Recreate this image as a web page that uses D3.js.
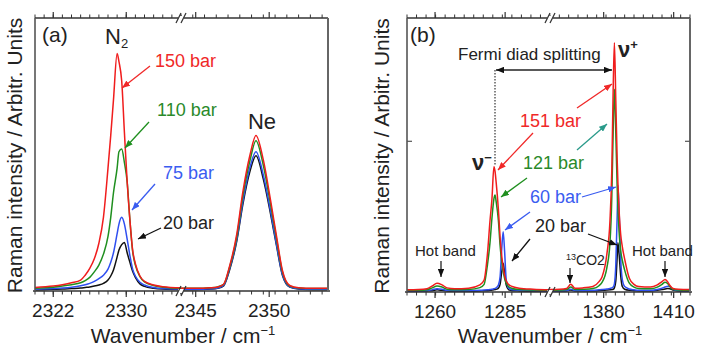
<!DOCTYPE html>
<html>
<head>
<meta charset="utf-8">
<script src="https://cdn.jsdelivr.net/npm/d3@7"></script>
<style>
body{margin:0;background:#fff;}
svg text{font-family:"Liberation Sans",Arial,sans-serif;}
</style>
</head>
<body>
<div id="chart"></div>
<script>
// ---- panel (a): N2 / Ne ----
const aWaveL = [2320,2322,2323,2324,2325,2325.5,2326,2326.5,2327,2327.5,2328,2328.3,2328.6,2329,2329.2,2329.5,2329.8,2330.1,2330.4,2330.7,2331,2331.5,2332,2333,2334,2336];
const aN2_150 = [1.3,1.8,2.3,3,4,5.8,8.3,11.8,17.5,27,45,57,70,87,84,77,58,40,26,15,10,5.5,3.5,2.2,1.6,1.2];
const aN2_110 = [1.0,1.4,1.8,2.3,3,3.8,5,7,9.5,13.5,20,27,36,45,51,52,47,40,26,14.5,9.5,5.3,3.3,2,1.4,1.0];
const aN2_75  = [0.6,0.9,1.1,1.4,1.9,2.3,2.8,3.5,4.5,5.8,8,10.5,14,21,24.5,27,24.5,19,13,8,5.5,3.2,2.2,1.3,0.9,0.7];
const aN2_20  = [0.4,0.6,0.7,0.9,1.1,1.3,1.5,1.8,2.2,2.8,4,5.5,7.7,12.5,15,17,17.8,14,10.5,7.2,5,2.6,1.7,1,0.7,0.5];

const aWaveR = [2344,2345,2346,2346.5,2346.9,2347.3,2347.8,2348.2,2348.7,2349.1,2349.6,2350.1,2350.5,2350.9,2351.4,2352,2353,2354];
const aNe_150 = [1,1,1.2,1.5,2.5,9,21,36,50,57,48,33,20,7.5,2,1.2,1,1];
const aNe_110 = [1,1,1.2,1.5,2.4,8.6,20,34.5,48,55,46,31.5,19,7,1.8,1.1,0.9,0.9];
const aNe_75  = [0.6,0.6,0.8,1.1,2,8,19,32.5,45.5,51,42.5,29,17,6,1.5,0.8,0.6,0.6];
const aNe_20  = [0.5,0.5,0.7,1,1.9,7.6,18.5,31.5,44,49.5,41,28,16.5,5.8,1.4,0.7,0.5,0.5];

const aTickLabL = [2322, 2330];
const aTickLabR = [2345, 2350];

// ---- panel (b): CO2 Fermi diad ----
const bWaveL = [1250,1254,1257.1,1259,1260.7,1262.5,1264.3,1267,1272,1276,1277.5,1278.7,1279.6,1280.3,1281,1281.4,1281.8,1282.6,1283.2,1283.8,1284.3,1284.8,1285.4,1286.2,1287.5,1290,1295,1301];
const bL_151 = [0.8,0.9,1.2,2.2,3.2,2.6,1.5,1.2,1.4,2.6,4.4,14,26,34,45.7,44,40,30,20,13,9,6,4,2.8,2,1.4,1,0.8];
const bL_121 = [0.6,0.6,0.8,1.5,2.2,1.8,1.0,0.8,0.9,1.6,2.8,10,18,27,34,35.4,33,26,17,11,7.5,5,3.2,2,1.3,0.9,0.7,0.6];
const bL_60  = [0.4,0.4,0.5,0.8,1.2,1.0,0.6,0.5,0.5,0.6,0.7,0.8,0.9,1.0,1.2,1.3,1.5,2.5,5.5,16,22,15,4.4,1.5,0.8,0.6,0.5,0.4];
const bL_20  = [0.3,0.3,0.4,0.5,0.8,0.6,0.4,0.3,0.3,0.4,0.5,0.5,0.6,0.7,0.8,0.9,1.0,1.4,2.8,7.5,10.5,7,2.5,0.9,0.5,0.4,0.3,0.3];

const bWaveR = [1357,1361,1364.1,1365.9,1367.7,1371,1375.4,1378,1379.3,1381.4,1382.7,1383.5,1384.1,1384.6,1385.2,1385.8,1386.1,1386.6,1387.3,1388,1389,1391,1393,1395,1400,1403,1405,1406.3,1407.5,1408.4,1409.7,1412,1417];
const bR_151 = [0.9,1.0,1.3,2.8,1.4,1.5,2,3.8,5.5,14,26,45,75,91,70,48,40,30,21,16.5,12,5,2.8,2,1.8,2.6,3.8,4.6,3.6,2.4,1.3,1,0.9];
const bR_121 = [0.6,0.7,0.9,1.8,0.9,1.0,1.3,2.3,3.5,9,18,35,60,74,58,38,31,22,15,11.5,8,3.2,1.8,1.3,1.2,1.8,2.8,3.6,3,2,1,0.7,0.6];
const bR_60  = [0.4,0.4,0.5,1.0,0.5,0.5,0.6,0.8,0.9,1.1,1.3,1.5,1.8,3,10,28,39,30,12,4.5,2,1.1,0.8,0.6,0.6,0.9,1.4,1.8,2.1,2.0,1.0,0.5,0.4];
const bR_20  = [0.3,0.3,0.4,0.7,0.4,0.4,0.4,0.5,0.6,0.7,0.8,0.9,1.0,1.5,4,13,18,14,6,2,1,0.6,0.5,0.4,0.4,0.6,0.9,1.1,1.3,1.2,0.7,0.4,0.3];

const bTickLabL = [1260, 1285];
const bTickLabR = [1380, 1410];

const colors = {black:'#111111', blue:'#2f4ff0', green:'#1f8f1f', red:'#f01d1d'};

const W = 703, H = 351;
const svg = d3.select('#chart').append('svg')
    .attr('width', W).attr('height', H)
    .attr('viewBox', '0 0 ' + W + ' ' + H);

// arrow heads
let defs = svg.append('defs');
function marker(id, col){
    defs.append('marker').attr('id', id)
        .attr('viewBox', '0 0 10 8').attr('refX', 10).attr('refY', 4)
        .attr('markerWidth', 8).attr('markerHeight', 6.4)
        .attr('markerUnits', 'userSpaceOnUse')
        .attr('orient', 'auto-start-reverse')
      .append('path').attr('d', 'M0,0 L10,4 L0,8 z').attr('fill', col);
}
marker('ar-red', '#f02828');
marker('ar-green', '#1f8f1f');
marker('ar-teal', '#2a9a8a');
marker('ar-blue', '#3a5cf0');
marker('ar-black', '#111');

function drawPanel(p){
    let g = svg.append('g');
    let y = d3.scaleLinear().domain([0, 100]).range([p.bottom, p.top]);
    let segs = [
        {x: d3.scaleLinear().domain(p.domL).range([p.left, p.brk]), wave: p.waveL, ser: p.serL, minor: p.minorL, lab: p.labL},
        {x: d3.scaleLinear().domain(p.domR).range([p.brk, p.right]), wave: p.waveR, ser: p.serR, minor: p.minorR, lab: p.labR}
    ];

    segs.forEach((s, si) => {
        let cid = p.id + 'clip' + si;
        defs.append('clipPath').attr('id', cid).append('rect')
            .attr('x', s.x.range()[0]).attr('y', p.top)
            .attr('width', s.x.range()[1] - s.x.range()[0]).attr('height', p.bottom - p.top);
        let line = d3.line().x((d, i) => s.x(s.wave[i])).y(d => y(d)).curve(d3.curveMonotoneX);
        let lg = g.append('g').attr('clip-path', 'url(#' + cid + ')');
        s.ser.forEach(sr => {
            lg.append('path').attr('d', line(sr.v))
                .attr('fill', 'none').attr('stroke', sr.c)
                .attr('stroke-width', 1.5).attr('stroke-linejoin', 'round');
        });

        // minor ticks, top and bottom, outward
        g.selectAll(null).data(s.minor).enter().append('line')
            .attr('x1', d => s.x(d)).attr('x2', d => s.x(d))
            .attr('y1', p.top).attr('y2', p.top - 3.5)
            .attr('stroke', '#333').attr('stroke-width', 1);
        g.selectAll(null).data(s.minor).enter().append('line')
            .attr('x1', d => s.x(d)).attr('x2', d => s.x(d))
            .attr('y1', p.bottom).attr('y2', p.bottom + 3.5)
            .attr('stroke', '#333').attr('stroke-width', 1);
        // labelled ticks
        g.selectAll(null).data(s.lab).enter().append('line')
            .attr('x1', d => s.x(d)).attr('x2', d => s.x(d))
            .attr('y1', p.bottom).attr('y2', p.bottom + 6)
            .attr('stroke', '#333').attr('stroke-width', 1.2);
        g.selectAll(null).data(s.lab).enter().append('line')
            .attr('x1', d => s.x(d)).attr('x2', d => s.x(d))
            .attr('y1', p.top).attr('y2', p.top - 6)
            .attr('stroke', '#333').attr('stroke-width', 1.2);
        g.selectAll(null).data(s.lab).enter().append('text')
            .attr('x', d => s.x(d)).attr('y', p.bottom + 26)
            .attr('text-anchor', 'middle').attr('font-size', 19).attr('fill', '#222')
            .text(d => d);
    });

    // frame
    g.append('line').attr('x1', p.left).attr('x2', p.right).attr('y1', p.top).attr('y2', p.top)
        .attr('stroke', '#333').attr('stroke-width', 1.4);
    g.append('line').attr('x1', p.left - 2).attr('x2', p.right + 2).attr('y1', p.bottom).attr('y2', p.bottom)
        .attr('stroke', '#333').attr('stroke-width', 1.4);
    g.append('line').attr('x1', p.left).attr('x2', p.left).attr('y1', p.top).attr('y2', p.bottom)
        .attr('stroke', '#555').attr('stroke-width', 1.6);
    g.append('line').attr('x1', p.right).attr('x2', p.right).attr('y1', p.top).attr('y2', p.bottom)
        .attr('stroke', '#666').attr('stroke-width', 2);

    // y ticks (inward)
    g.selectAll(null).data(p.yTicks).enter().append('line')
        .attr('x1', p.right).attr('x2', p.right - 5).attr('y1', d => y(d)).attr('y2', d => y(d))
        .attr('stroke', '#555').attr('stroke-width', 1.2);
    g.selectAll(null).data(p.yTicks).enter().append('line')
        .attr('x1', p.left).attr('x2', p.left + 5).attr('y1', d => y(d)).attr('y2', d => y(d))
        .attr('stroke', '#555').attr('stroke-width', 1.2);

    // axis break marks
    [p.top, p.bottom].forEach(yy => {
        g.append('rect').attr('x', p.brk - 3).attr('y', yy - 2).attr('width', 6).attr('height', 4).attr('fill', '#fff');
        [-2.5, 2.5].forEach(o => {
            g.append('line').attr('x1', p.brk + o - 2.5).attr('x2', p.brk + o + 2.5)
                .attr('y1', yy + 5).attr('y2', yy - 5)
                .attr('stroke', '#333').attr('stroke-width', 1.2);
        });
    });

    // axis titles
    g.append('text').attr('transform', 'translate(' + p.yLabX + ',' + ((p.top + p.bottom) / 2 + 1) + ') rotate(-90)')
        .attr('text-anchor', 'middle').attr('font-size', 21).attr('fill', '#222')
        .text('Raman intensity / Arbitr. Units');
    let xt = g.append('text').attr('x', p.xLabX).attr('y', 343)
        .attr('text-anchor', 'middle').attr('font-size', 21).attr('fill', '#222');
    xt.append('tspan').text('Wavenumber / cm');
    xt.append('tspan').attr('dy', -8).attr('font-size', 13).text('\u22121');
    return g;
}

drawPanel({
    id: 'a', left: 35, right: 328, brk: 181, top: 18, bottom: 291,
    domL: [2320, 2336], domR: [2344, 2354],
    waveL: aWaveL, waveR: aWaveR,
    serL: [{v: aN2_20, c: colors.black}, {v: aN2_75, c: colors.blue}, {v: aN2_110, c: colors.green}, {v: aN2_150, c: colors.red}],
    serR: [{v: aNe_20, c: colors.black}, {v: aNe_75, c: colors.blue}, {v: aNe_110, c: colors.green}, {v: aNe_150, c: colors.red}],
    minorL: d3.range(2320, 2336.01, 1), minorR: d3.range(2344, 2354.01, 0.8),
    labL: aTickLabL, labR: aTickLabR, yTicks: [],
    yLabX: 22, xLabX: 183
});

drawPanel({
    id: 'b', left: 407, right: 690, brk: 550, top: 18, bottom: 292,
    domL: [1250, 1301], domR: [1357, 1417],
    waveL: bWaveL, waveR: bWaveR,
    serL: [{v: bL_20, c: colors.black}, {v: bL_60, c: colors.blue}, {v: bL_121, c: colors.green}, {v: bL_151, c: colors.red}],
    serR: [{v: bR_20, c: colors.black}, {v: bR_60, c: colors.blue}, {v: bR_121, c: colors.green}, {v: bR_151, c: colors.red}],
    minorL: d3.range(1250, 1301, 3.4), minorR: d3.range(1357, 1417.01, 4),
    labL: bTickLabL, labR: bTickLabR, yTicks: [55],
    yLabX: 389, xLabX: 550
});

// ---- annotations ----
let ann = svg.append('g');
function txt(x, yy, s, size, col, extra){
    let t = ann.append('text').attr('x', x).attr('y', yy).attr('font-size', size).attr('fill', col).text(s);
    if (extra) extra(t);
    return t;
}
function arrow(x1, y1, x2, y2, id, col, w){
    ann.append('line').attr('x1', x1).attr('y1', y1).attr('x2', x2).attr('y2', y2)
        .attr('stroke', col).attr('stroke-width', w || 1.3).attr('marker-end', 'url(#' + id + ')');
}

// (a)
txt(42, 42, '(a)', 21, '#222');
let n2 = txt(105, 44, 'N', 22, '#222');
n2.append('tspan').attr('dy', 4).attr('font-size', 13).text('2');
txt(262, 129, 'Ne', 22, '#222').attr('text-anchor', 'middle');
txt(155, 67, '150 bar', 18, '#f02828');
arrow(150, 66, 122, 88, 'ar-red', '#f02828');
txt(157, 116, '110 bar', 18, '#2a8a2a');
arrow(149, 122, 125, 148, 'ar-green', '#1f8f1f');
txt(163, 179, '75 bar', 18, '#3a5cf0');
arrow(155, 184, 132, 210, 'ar-blue', '#3a5cf0');
txt(163, 229, '20 bar', 18, '#222');
arrow(161, 228, 138, 239, 'ar-black', '#111');

// (b)
txt(410, 42, '(b)', 21, '#222');
txt(458, 60, 'Fermi diad splitting', 17, '#222');
ann.append('line').attr('x1', 496).attr('x2', 612).attr('y1', 70).attr('y2', 70)
    .attr('stroke', '#222').attr('stroke-width', 1.3)
    .attr('marker-start', 'url(#ar-black)').attr('marker-end', 'url(#ar-black)');
ann.append('line').attr('x1', 495).attr('x2', 495).attr('y1', 70).attr('y2', 165)
    .attr('stroke', '#222').attr('stroke-width', 1.1).attr('stroke-dasharray', '1.5,1.5');

let nuP = txt(618, 57, '\u03bd', 22, '#222').attr('font-weight', 'bold').attr('font-family', '"Liberation Serif",serif');
nuP.append('tspan').attr('dy', -8).attr('font-size', 13).text('+');
let nuM = txt(472, 170, '\u03bd', 22, '#222').attr('font-weight', 'bold').attr('font-family', '"Liberation Serif",serif');
nuM.append('tspan').attr('dy', -8).attr('font-size', 13).text('\u2212');

txt(520, 127, '151 bar', 18, '#f02828');
arrow(577, 108, 612, 84, 'ar-red', '#f02828');
arrow(533, 133, 498, 170, 'ar-red', '#f02828');
txt(523, 169, '121 bar', 18, '#2a8a2a');
arrow(577, 150, 607, 124, 'ar-teal', '#2a9a8a');
arrow(527, 178, 501, 197, 'ar-green', '#1f8f1f');
txt(530, 203, '60 bar', 18, '#3a5cf0');
arrow(582, 197, 616, 187, 'ar-blue', '#3a5cf0');
arrow(530, 212, 505, 230, 'ar-blue', '#3a5cf0');
txt(535, 232, '20 bar', 18, '#222');
arrow(588, 234, 617, 245, 'ar-black', '#111');
arrow(530, 239, 512, 261, 'ar-black', '#111');

txt(415, 256, 'Hot band', 15, '#222');
arrow(441, 261, 441, 277, 'ar-black', '#111', 1.2);
let co2 = txt(566, 265, '', 14, '#222');
co2.append('tspan').attr('font-size', 9).attr('dy', -5).text('13');
co2.append('tspan').attr('dy', 5).text('CO2');
arrow(570, 268, 570, 283, 'ar-black', '#111', 1.2);
txt(632, 256, 'Hot band', 15, '#222');
arrow(665, 261, 665, 277, 'ar-black', '#111', 1.2);
</script>
</body>
</html>
